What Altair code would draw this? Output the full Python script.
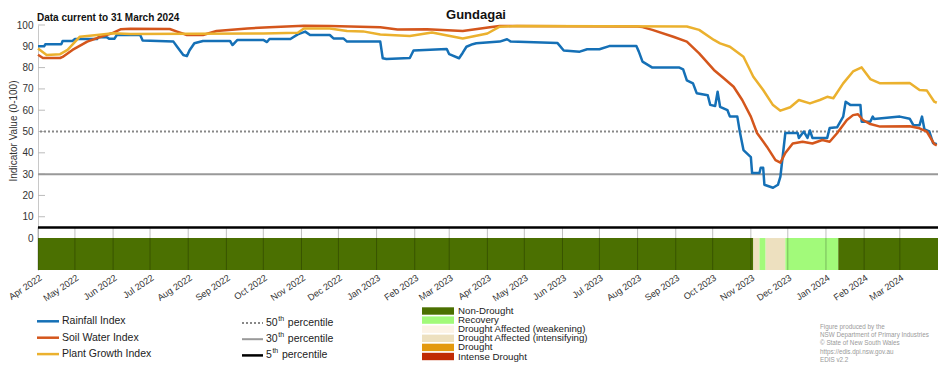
import altair as alt
import pandas as pd

FONT = "Liberation Sans"

# ---------------- data ----------------
rain_dates = ["2022-04-01","2022-04-06","2022-04-07","2022-04-20","2022-04-21","2022-04-29","2022-05-01","2022-05-19",
              "2022-05-20","2022-05-27","2022-05-29","2022-06-02","2022-06-04","2022-06-23","2022-06-25","2022-07-20",
              "2022-07-23","2022-07-28","2022-07-31","2022-08-02","2022-08-06","2022-08-13","2022-09-04","2022-09-06",
              "2022-09-10","2022-10-01","2022-10-04","2022-10-06","2022-10-23","2022-10-29","2022-11-04","2022-11-08",
              "2022-11-24","2022-11-27","2022-12-05","2022-12-08","2023-01-04","2023-01-06","2023-01-09","2023-01-28",
              "2023-01-31","2023-02-27","2023-03-01","2023-03-09","2023-03-12","2023-03-15","2023-03-20","2023-03-23",
              "2023-04-11","2023-04-17","2023-04-20","2023-05-28","2023-06-02","2023-06-15","2023-06-21","2023-07-01",
              "2023-07-09","2023-07-31","2023-08-02","2023-08-05","2023-08-13","2023-09-04","2023-09-07","2023-09-10",
              "2023-09-15","2023-09-18","2023-09-27","2023-09-29","2023-10-03","2023-10-05","2023-10-07","2023-10-13",
              "2023-10-15","2023-10-21","2023-10-23","2023-10-26","2023-11-01","2023-11-02","2023-11-08","2023-11-09",
              "2023-11-11","2023-11-12","2023-11-19","2023-11-23","2023-11-25","2023-11-29","2023-12-09","2023-12-10",
              "2023-12-14","2023-12-17","2023-12-19","2023-12-21","2024-01-02","2024-01-04","2024-01-10","2024-01-15",
              "2024-01-17","2024-01-21","2024-01-29","2024-01-30","2024-02-06","2024-02-08","2024-02-09","2024-03-01",
              "2024-03-09","2024-03-12","2024-03-17","2024-03-19","2024-03-21","2024-03-25","2024-03-28","2024-03-31"]
rain_values = [90,90,91,91,92.5,92.5,93.4,93.4,
               94.2,94.2,93.5,93.5,95.3,95.3,92.7,92.2,
               89.8,85.9,85.4,88,91.4,92.5,92.5,90.6,
               93,93,92,93.4,93.4,95.6,96.9,95.3,
               95.3,93.7,93.7,92.2,92.2,84.4,84,84.5,
               88,88.7,86.3,84.4,87,89.8,91,91.4,
               92.2,93.3,92.2,91.5,88,87.5,88.6,88.6,
               90.1,90.1,87.5,82.8,80,80,79.2,74,
               72.6,68,67,62.5,62,68.7,61.6,60,
               57,57,50,41.3,38,30.5,30.5,33,
               33,25,23.6,25,28.8,49.3,49.3,47,
               50,47,50.5,47,47,51.6,52,57,
               64,62.4,62.4,54.6,54.6,57,55.9,57,
               56,53,53,57,51,50,44.6,44]

soil_dates = ["2022-04-01","2022-04-05","2022-04-19","2022-04-21","2022-04-29","2022-05-11","2022-05-22","2022-05-31",
              "2022-06-07","2022-06-15","2022-07-17","2022-07-23","2022-07-31","2022-08-13","2022-08-24","2022-09-18",
              "2022-10-06","2022-11-03","2022-11-24","2023-01-04","2023-01-18","2023-02-11","2023-03-12","2023-04-03",
              "2023-04-11","2023-08-01","2023-08-05","2023-08-13","2023-08-30","2023-09-10","2023-09-20","2023-10-02",
              "2023-10-10","2023-10-18","2023-10-25","2023-11-01","2023-11-06","2023-11-14","2023-11-21","2023-11-25",
              "2023-11-29","2023-12-05","2023-12-13","2023-12-21","2023-12-29","2024-01-04","2024-01-10","2024-01-18",
              "2024-01-23","2024-01-27","2024-01-31","2024-02-06","2024-02-14","2024-03-09","2024-03-17","2024-03-23",
              "2024-03-29","2024-03-31"]
soil_values = [86,84.5,84.5,85,88.3,92.2,94.5,96.1,
               98,98.2,98.1,96.9,95.3,95.3,97.2,98.4,
               98.9,99.7,99.5,98.9,97.9,98,97.2,98.9,
               99.5,99.3,99,97.7,94.5,92.2,86.7,78.9,
               75,71,64.8,57,49.3,42.9,36.6,35.4,
               39.9,44.4,45.2,44.4,46,45.2,49.2,55.4,
               57.7,58.1,55.4,53.5,52.3,52.5,51.5,49.9,
               44.1,43.5]

plant_dates = ["2022-04-01","2022-04-08","2022-04-19","2022-04-25","2022-05-05","2022-05-19","2022-06-01","2022-06-15",
               "2022-10-01","2022-10-29","2022-11-03","2022-11-24","2022-12-08","2022-12-21","2023-01-04","2023-01-28",
               "2023-02-15","2023-03-12","2023-04-01","2023-04-11","2023-04-25","2023-09-10","2023-09-20","2023-10-02",
               "2023-10-07","2023-10-15","2023-10-26","2023-11-03","2023-11-11","2023-11-19","2023-11-25","2023-12-03",
               "2023-12-10","2023-12-19","2023-12-27","2024-01-02","2024-01-07","2024-01-15","2024-01-23","2024-01-30",
               "2024-02-06","2024-02-14","2024-03-09","2024-03-17","2024-03-23","2024-03-29","2024-03-31"]
plant_values = [89,85.9,86.3,88.3,94.5,95.3,96.1,95.8,
                96,96.4,98.4,98.4,97.2,97,95.5,94.8,
                96.5,93.7,96,99.2,99.5,99.3,97.7,93,
                91.4,89.8,85.1,75.7,69.5,62.4,59.8,61.4,
                64.8,63.2,64.8,66.3,65.6,72.6,78.2,80.1,
                74.6,72.6,72.8,69.5,69.2,64,63.5]

series_names = ["Rainfall Index", "Soil Water Index", "Plant Growth Index"]
series_colors = ["#1570b6", "#d4561c", "#ebb12e"]

band_start = ["2022-04-01","2023-11-03","2023-11-08","2023-11-13","2023-11-29","2024-01-11"]
band_end = ["2023-11-03","2023-11-08","2023-11-13","2023-11-29","2024-01-11","2024-04-01"]
band_cat = ["Non-Drought","Drought Affected (intensifying)","Recovery",
            "Drought Affected (intensifying)","Recovery","Non-Drought"]

category_names = ["Non-Drought","Recovery","Drought Affected (weakening)",
                  "Drought Affected (intensifying)","Drought","Intense Drought"]
category_colors = ["#4b7001","#a2fa7a","#fcf3e6","#ede0bf","#e3990f","#c02a04"]

percentile_values = [50, 30, 5]
percentile_labels = ["50", "30", "5"]
y_tick_values = [0,10,20,30,40,50,60,70,80,90,100]
month_ticks = [(2022, m) for m in range(4, 13)] + [(2023, m) for m in range(1, 13)] + [(2024, m) for m in range(1, 4)]

title_text = "Gundagai"
subtitle_text = "Data current to 31 March 2024"
y_title = "Indicator Value (0-100)"
footer_lines = ["Figure produced by the","NSW Department of Primary Industries",
                "\u00a9 State of New South Wales","https://edis.dpi.nsw.gov.au","EDIS v2.2"]

# ---------------- tables ----------------
def frame(d, v, name):
    return pd.DataFrame({"date": pd.to_datetime(d), "value": v, "series": name})

lines_df = pd.concat([frame(rain_dates, rain_values, series_names[0]),
                      frame(soil_dates, soil_values, series_names[1]),
                      frame(plant_dates, plant_values, series_names[2])], ignore_index=True)
lines_df["order"] = lines_df["series"].map({n: i for i, n in enumerate(series_names)})

band_df = pd.DataFrame({"start": pd.to_datetime(band_start), "end": pd.to_datetime(band_end),
                        "cat": band_cat, "top": 0, "bot": -15})
grid_df = pd.DataFrame({"date": pd.to_datetime([f"{y}-{m:02d}-01" for y, m in month_ticks]),
                        "top": 5, "bot": -15})

W, H = 900, 245
x_scale = alt.Scale(domain=[alt.DateTime(year=2022, month=4, date=1),
                            alt.DateTime(year=2024, month=4, date=1)])
y_scale = alt.Scale(domain=[-15, 100], nice=False, zero=False)

x_axis = alt.Axis(format="%b %Y", values=[alt.DateTime(year=y, month=m, date=1) for y, m in month_ticks],
                  labelAngle=-34, labelAlign="right", labelBaseline="top", labelPadding=3, domain=False,
                  ticks=False, grid=False, labelFont=FONT, labelFontSize=9.2, labelColor="#333", title=None,
                  labelOverlap=False, labelFlush=False)
y_axis = alt.Axis(values=y_tick_values, title=None, ticks=False, grid=False, domainColor="#c8c8c8",
                  labelFont=FONT, labelFontSize=10, labelColor="#333", labelPadding=5)

band = alt.Chart(band_df).mark_rect().encode(
    x=alt.X("start:T", scale=x_scale, axis=x_axis), x2="end:T",
    y=alt.Y("top:Q", scale=y_scale, axis=y_axis), y2="bot:Q",
    color=alt.Color("cat:N", scale=alt.Scale(domain=category_names, range=category_colors), legend=None))

grid = alt.Chart(grid_df).mark_rule(color="#000", opacity=0.25, strokeWidth=1).encode(
    x=alt.X("date:T", scale=x_scale, axis=x_axis),
    y=alt.Y("top:Q", scale=y_scale, axis=y_axis), y2="bot:Q")

ytick_df = pd.DataFrame({"value": y_tick_values[1:]})
yticks = alt.Chart(ytick_df).mark_rule(color="#bbb", strokeWidth=1).encode(
    y=alt.Y("value:Q", scale=y_scale, axis=y_axis), x=alt.value(0), x2=alt.value(7))

p_styles = [dict(color="#888", strokeWidth=2, strokeDash=[2, 2]),
            dict(color="#999", strokeWidth=2),
            dict(color="#000", strokeWidth=2.5)]
perc = [alt.Chart(pd.DataFrame({"value": [v]})).mark_rule(**s).encode(
            y=alt.Y("value:Q", scale=y_scale, axis=y_axis))
        for v, s in zip(percentile_values, p_styles)]

lines = alt.Chart(lines_df).mark_line(strokeWidth=2.5, strokeJoin="round").encode(
    x=alt.X("date:T", scale=x_scale, axis=x_axis),
    y=alt.Y("value:Q", scale=y_scale, axis=y_axis),
    stroke=alt.Stroke("series:N", scale=alt.Scale(domain=series_names, range=series_colors), legend=None),
    detail="series:N", order="order:Q")


def txt(text, x, y, size=10.5, weight="normal", color="#222", align="left", angle=0, baseline="middle"):
    kw = dict(font=FONT, fontSize=size, fontWeight=weight, color=color, align=align, baseline=baseline)
    if angle:
        kw["angle"] = angle
    return alt.Chart(pd.DataFrame({"t": [text]})).mark_text(**kw).encode(
        x=alt.value(x), y=alt.value(y), text="t:N")


deco = []
deco.append(txt(title_text, 438, -10, size=13, weight="bold", color="#111", align="center"))
deco.append(txt(subtitle_text, -1, -7, size=10, weight="bold", color="#111"))
deco.append(txt(y_title, -24.5, 106, size=10, color="#333", align="center", angle=270))

# legend 1: index lines
for i, (n, c) in enumerate(zip(series_names, series_colors)):
    yy = 296.3 + 16.4 * i
    deco.append(alt.Chart(pd.DataFrame({"s": [n]})).mark_rule(color=c, strokeWidth=2.5).encode(
        x=alt.value(-1), x2=alt.value(21), y=alt.value(yy)))
    deco.append(txt(n, 24, yy, size=10.5))

# legend 2: percentiles
for i, (lab, s) in enumerate(zip(percentile_labels, p_styles)):
    yy = 298 + 16.2 * i
    deco.append(alt.Chart(pd.DataFrame({"s": [lab]})).mark_rule(**s).encode(
        x=alt.value(204), x2=alt.value(225), y=alt.value(yy)))
    deco.append(txt(lab, 228, yy, size=10.5))
    sx = 228 + 5.9 * len(lab) + 0.5
    deco.append(txt("th", sx, yy - 4, size=7))
    deco.append(txt("percentile", sx + 9.5, yy, size=10.5))

# legend 3: drought categories
for i, (n, c) in enumerate(zip(category_names, category_colors)):
    yy = 286 + 9.1 * i
    deco.append(alt.Chart(pd.DataFrame({"s": [n]})).mark_rect(color=c).encode(
        x=alt.value(384), x2=alt.value(416), y=alt.value(yy - 3.7), y2=alt.value(yy + 3.7)))
    deco.append(txt(n, 420, yy, size=9.7))

# footer
for i, line in enumerate(footer_lines):
    deco.append(txt(line, 782, 302 + 8.2 * i, size=6.3, color="#9a9a9a"))

chart = alt.layer(band, grid, yticks, *perc, lines, *deco).properties(
    width=W, height=H,
    autosize=alt.AutoSizeParams(type="none"),
    padding={"left": 30, "top": 17, "right": 6, "bottom": 92},
).resolve_scale(color="independent", stroke="independent").configure_view(stroke=None)

chart.save("out.html", embed_options={"renderer": "svg", "actions": False})
